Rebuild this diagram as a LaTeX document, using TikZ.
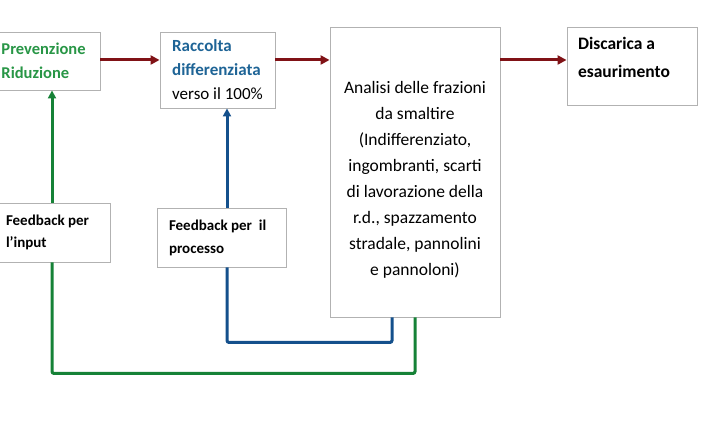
\documentclass[tikz,border=0pt]{standalone}
\usepackage{fontspec}
\setmainfont{Carlito}
\usetikzlibrary{arrows.meta}

\definecolor{arrowred}{RGB}{128,18,22}
\definecolor{fbgreen}{RGB}{22,130,55}
\definecolor{fbblue}{RGB}{20,80,140}
\definecolor{txtgreen}{RGB}{40,150,70}
\definecolor{txtblue}{RGB}{30,100,150}

\tikzset{
	box/.style={draw=gray!60, line width=0.9pt, fill=white, inner sep=0pt},
	boxtext/.style={font=\fontsize{16.5}{24}\selectfont, align=flush left},
	flow/.style={arrowred, line width=3pt, -{Triangle[length=9pt,width=9pt]}},
	loop/.style={line width=3pt, rounded corners=2pt},
}

\begin{document}
\begin{tikzpicture}[x=1pt, y=-1pt]
	\useasboundingbox (0,0) rectangle (705,435);

	% upper chain
	\node[box, minimum width=102pt, minimum height=58pt, boxtext, text width=95pt] (prev) at (49,61)
		{\textbf{\color{txtgreen}Prevenzione}\\\textbf{\color{txtgreen}Riduzione}};
	\node[box, minimum width=115pt, minimum height=76pt, boxtext, align=left, font=\fontsize{17}{24}\selectfont] (racc) at (217.5,70)
		{\textbf{\color{txtblue}Raccolta}\\\textbf{\color{txtblue}differenziata}\\verso il 100\%};
	\node[box, minimum width=170pt, minimum height=290pt,
		label={[boxtext, align=center, font=\fontsize{17.5}{26}\selectfont, yshift=-8pt]center:Analisi delle frazioni\\da smaltire\\(Indifferenziato,\\ingombranti, scarti\\di lavorazione della\\r.d., spazzamento\\stradale, pannolini\\e pannoloni)}] (analisi) at (415,172) {};
	\node[box, minimum width=130pt, minimum height=78pt,
		label={[boxtext, text width=108pt, font=\fontsize{17.5}{28}\selectfont, yshift=9pt]center:\textbf{Discarica a}\\\textbf{esaurimento}}] (disc) at (632,66) {};

	% feedback boxes
	\node[box, minimum width=112pt, minimum height=59pt, boxtext, text width=96pt, font=\fontsize{15}{22}\selectfont] (fbin) at (54,232.5)
		{\textbf{Feedback per}\\\textbf{l'input}};
	\node[box, minimum width=129pt, minimum height=59pt, boxtext, text width=105pt, font=\fontsize{15}{23}\selectfont] (fbproc) at (221.5,237.5)
		{\textbf{Feedback per\ \ il}\\\textbf{processo}};

	\draw[flow] (prev.east |- 0,60) -- (racc.west |- 0,60);
	\draw[flow] (racc.east |- 0,60) -- (analisi.west |- 0,60);
	\draw[flow] (analisi.east |- 0,60) -- (disc.west |- 0,60);

	% loops back
	\draw[loop, fbgreen, -{Triangle[length=8pt,width=8pt]}] ([xshift=-2pt]fbin.north) -- ([xshift=-2pt]fbin.north |- prev.south);
	\draw[loop, fbgreen] (analisi.south) -- ++(0,56) -| ([xshift=-2pt]fbin.south);
	\draw[loop, fbblue, -{Triangle[length=8pt,width=8pt]}] ([xshift=5.5pt]fbproc.north) -- ([xshift=5.5pt]fbproc.north |- racc.south);
	\draw[loop, fbblue] ([xshift=-23pt]analisi.south) -- ++(0,25) -| ([xshift=5.5pt]fbproc.south);
\end{tikzpicture}
\end{document}
